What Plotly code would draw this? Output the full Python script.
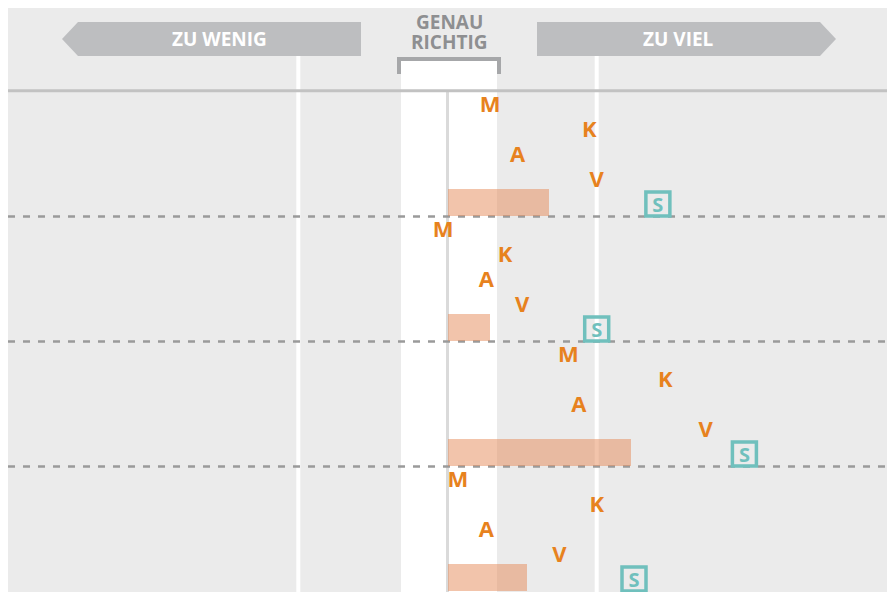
import plotly.graph_objects as go

# ---------------- data ----------------
groups = ["Gruppe 1", "Gruppe 2", "Gruppe 3", "Gruppe 4"]
letters = ["M", "K", "A", "V"]
m_vals = [0.285, -0.03, 0.81, 0.07]
k_vals = [0.95, 0.385, 1.46, 1.00]
a_vals = [0.47, 0.26, 0.88, 0.26]
v_vals = [1.00, 0.50, 1.73, 0.75]
bar_vals = [0.68, 0.285, 1.23, 0.53]
s_vals = [1.41, 1.00, 1.99, 1.25]

ROWS = 5  # rows per group

# ---------------- geometry helpers (decorations only) ----------------
OFF = 8                        # page body margin in the browser
W, H = 895 - OFF, 592 - OFF
L, R, T, B = 0, 5, 0, 0
PW, PH = W - L - R, H - T - B
CX, SC = 447.5 - OFF, 149.2    # figure pixel of x=0, pixels per unit
ROW0, ROWH = 104 - OFF, 25     # figure pixel of first row, row height
TXT_DY = 0.1                   # small vertical nudge for glyph centring

x_range = [(L - CX) / SC, (W - R - CX) / SC]
y_range = [(H - B - ROW0) / ROWH, (T - ROW0) / ROWH]  # reversed


def px(p):  # screen pixel x -> paper
    return (p - OFF - L) / PW


def py(p):  # screen pixel y -> paper
    return (H - B - (p - OFF)) / PH


ORANGE = "rgb(231,130,30)"
TEAL = "rgb(112,192,189)"
FONT = "Open Sans"

fig = go.Figure()

# bars
bar_y = [g * ROWS + 3.94 for g in range(len(groups))]
fig.add_trace(go.Bar(
    x=bar_vals, y=bar_y, base=0, orientation="h", width=1.08,
    marker=dict(color="rgba(228,132,80,0.48)", line=dict(width=0)),
    hoverinfo="skip", showlegend=False))

# letters
for i, (lab, vals) in enumerate(zip(letters, [m_vals, k_vals, a_vals, v_vals])):
    fig.add_trace(go.Scatter(
        x=vals, y=[g * ROWS + i + TXT_DY for g in range(len(groups))],
        mode="text", text=[lab] * len(vals),
        textfont=dict(family=FONT, size=22, color=ORANGE, weight="bold"),
        textposition="middle center", showlegend=False, hoverinfo="skip"))

# S boxes
fig.add_trace(go.Scatter(
    x=s_vals, y=[g * ROWS + 4 for g in range(len(groups))],
    mode="markers", marker=dict(symbol="square-open", size=24, color=TEAL,
                                line=dict(width=3.5, color=TEAL)),
    showlegend=False, hoverinfo="skip", cliponaxis=False))
fig.add_trace(go.Scatter(
    x=s_vals, y=[g * ROWS + 4 + TXT_DY for g in range(len(groups))],
    mode="text", text=["S"] * len(s_vals),
    textfont=dict(family=FONT, size=20, color=TEAL, weight="bold"),
    textposition="middle center", showlegend=False, hoverinfo="skip",
    cliponaxis=False))

shapes = []
# white "genau richtig" band
shapes.append(dict(type="rect", xref="paper", yref="paper",
                   x0=px(401), x1=px(497), y0=0, y1=py(61),
                   fillcolor="white", line=dict(width=0), layer="below"))
# white reference lines at -1 and +1
for xv in (-1, 1):
    shapes.append(dict(type="line", xref="x", yref="paper", x0=xv, x1=xv,
                       y0=0, y1=py(55), line=dict(color="white", width=4),
                       layer="below"))
# centre line
shapes.append(dict(type="line", xref="x", yref="paper", x0=0, x1=0,
                   y0=0, y1=py(92), line=dict(color="#dadada", width=3),
                   layer="below"))
# horizontal top rule
shapes.append(dict(type="line", xref="paper", yref="paper", x0=0, x1=1,
                   y0=py(90.8), y1=py(90.8), line=dict(color="#c2c2c2", width=3),
                   layer="below"))
# dashed group separators
for g in range(1, len(groups)):
    yv = g * ROWS - 0.5
    shapes.append(dict(type="line", xref="paper", yref="y", x0=0, x1=1,
                       y0=yv, y1=yv, line=dict(color="#9a9a9a", width=2.5, dash="7px,8px"),
                       layer="below"))
# bracket
shapes.append(dict(type="path", xref="paper", yref="paper",
                   path=f"M {px(399)},{py(74)} L {px(399)},{py(59)} L {px(499)},{py(59)} L {px(499)},{py(74)}",
                   line=dict(color="#a6a7a9", width=4)))
# arrows
shapes.append(dict(type="path", xref="paper", yref="paper",
                   path=(f"M {px(62)},{py(39)} L {px(78)},{py(22)} L {px(361)},{py(22)} "
                         f"L {px(361)},{py(56)} L {px(78)},{py(56)} Z"),
                   fillcolor="#bdbec0", line=dict(width=0)))
shapes.append(dict(type="path", xref="paper", yref="paper",
                   path=(f"M {px(537)},{py(22)} L {px(820)},{py(22)} L {px(836)},{py(39)} "
                         f"L {px(820)},{py(56)} L {px(537)},{py(56)} Z"),
                   fillcolor="#bdbec0", line=dict(width=0)))


def ann(text, x, y, size, color, height=None):
    d = dict(text=text, x=px(x), y=py(y), xref="paper", yref="paper",
             xanchor="center", yanchor="middle", showarrow=False,
             font=dict(family=FONT, size=size, color=color, weight="bold"))
    if height:
        d["height"] = height
    return d


annotations = [
    ann("ZU WENIG", 219, 39, 19, "white"),
    ann("ZU VIEL", 678, 39, 19, "white"),
    ann("GENAU", 449, 21.5, 19, "#8e8f91", height=19),
    ann("RICHTIG", 449, 41.5, 19, "#8e8f91", height=19),
]

fig.update_layout(
    width=W, height=H,
    margin=dict(l=L, r=R, t=T, b=B, pad=0),
    paper_bgcolor="white", plot_bgcolor="#ebebeb",
    shapes=shapes, annotations=annotations,
    xaxis=dict(range=x_range, showgrid=False, zeroline=False, showticklabels=False,
               ticks="", fixedrange=True),
    yaxis=dict(range=y_range, showgrid=False, zeroline=False, showticklabels=False,
               ticks="", fixedrange=True),
    bargap=0, showlegend=False,
)

fig.write_html("out.html")
